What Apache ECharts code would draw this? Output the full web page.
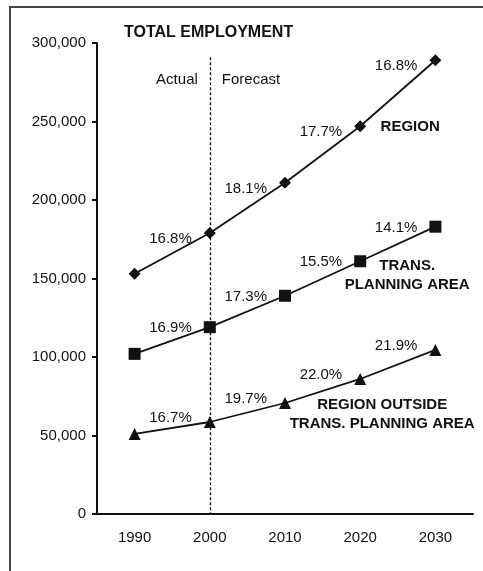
<!DOCTYPE html>
<html>
<head>
<meta charset="utf-8">
<script src="https://cdn.jsdelivr.net/npm/echarts@6/dist/echarts.min.js"></script>
<style>
  html, body { margin: 0; padding: 0; background: #fff; }
  #chart { width: 483px; height: 571px; }
</style>
</head>
<body>
<div id="chart"></div>
<script>
const years = ['1990', '2000', '2010', '2020', '2030'];
const regionVals = [153000, 179000, 211000, 247000, 289000];
const transVals = [102000, 119000, 139000, 161000, 183000];
const outsideVals = [51000, 58600, 70700, 86000, 104500];
// growth per decade, shown beside each point (none for 1990)
const regionPct = ['', '16.8%', '18.1%', '17.7%', '16.8%'];
const transPct = ['', '16.9%', '17.3%', '15.5%', '14.1%'];
const outsidePct = ['', '16.7%', '19.7%', '22.0%', '21.9%'];
const yTicks = [0, 50000, 100000, 150000, 200000, 250000, 300000];

const FONT = "'Liberation Sans', Arial, sans-serif";

function withPct(vals, pct) {
  return vals.map((v, i) => ({ value: v, label: { formatter: pct[i] } }));
}

function pctLabel(dy) {
  return {
    show: true,
    position: 'left',
    distance: 12,
    offset: [0, dy],
    fontFamily: FONT,
    fontSize: 15,
    color: '#111',
  };
}

function nameMark(coord, text, offset) {
  return {
    coord: coord,
    symbolSize: 0,
    label: {
      show: true,
      position: 'inside',
      offset: offset,
      formatter: text,
      align: 'center',
      fontFamily: FONT,
      fontSize: 15,
      fontWeight: 'bold',
      lineHeight: 19,
      color: '#111',
    },
  };
}

const chart = echarts.init(document.getElementById('chart'));
chart.setOption({
  animation: false,
  backgroundColor: '#fff',
  title: {
    text: 'TOTAL EMPLOYMENT',
    left: 119,
    top: 20,
    textStyle: { fontFamily: FONT, fontSize: 16, fontWeight: 'bold', color: '#111' },
  },
  graphic: [{
    type: 'polyline',
    shape: { points: [[10, 571], [10, 7], [483, 7]] },
    style: { stroke: '#444', lineWidth: 2, fill: null },
  }],
  grid: { left: 97, right: 10, top: 43, bottom: 57 },
  xAxis: {
    type: 'category',
    data: years,
    axisLine: { lineStyle: { color: '#111', width: 2 } },
    axisTick: { length: 5, lineStyle: { color: '#111', width: 2 } },
    axisLabel: { margin: 16, fontFamily: FONT, fontSize: 15, color: '#111' },
  },
  yAxis: {
    type: 'value',
    min: 0,
    max: 300000,
    interval: 50000,
    splitLine: { show: false },
    axisLine: { show: true, lineStyle: { color: '#111', width: 2 } },
    axisTick: { show: true, length: 5, lineStyle: { color: '#111', width: 2 } },
    axisLabel: {
      margin: 11,
      fontFamily: FONT,
      fontSize: 15,
      color: '#111',
      formatter: (v) => yTicks.includes(v) ? v.toLocaleString('en-US') : '',
    },
  },
  series: [
    {
      name: 'REGION',
      type: 'line',
      data: withPct(regionVals, regionPct),
      symbol: 'diamond',
      symbolSize: 12,
      itemStyle: { color: '#111' },
      lineStyle: { color: '#111', width: 1.8 },
      label: pctLabel(6),
      markLine: {
        silent: true,
        symbol: 'none',
        label: { show: false },
        lineStyle: { color: '#111', type: [3, 2], width: 1.3 },
        data: [[{ coord: ['2000', 291000] }, { coord: ['2000', 0] }]],
      },
      markPoint: {
        data: [
          nameMark(['2020', 247000], 'REGION', [50, 1]),
          {
            coord: ['2000', 276500],
            symbolSize: 0,
            label: { show: true, position: 'left', distance: 12, formatter: 'Actual',
              fontFamily: FONT, fontSize: 15, color: '#111' },
          },
          {
            coord: ['2000', 276500],
            symbolSize: 0,
            label: { show: true, position: 'right', distance: 12, formatter: 'Forecast',
              fontFamily: FONT, fontSize: 15, color: '#111' },
          },
        ],
      },
    },
    {
      name: 'TRANS. PLANNING AREA',
      type: 'line',
      data: withPct(transVals, transPct),
      symbol: 'rect',
      symbolSize: 12,
      itemStyle: { color: '#111' },
      lineStyle: { color: '#111', width: 1.8 },
      label: pctLabel(1),
      markPoint: {
        data: [nameMark(['2020', 161000], 'TRANS.\nPLANNING AREA', [47, 14])],
      },
    },
    {
      name: 'REGION OUTSIDE TRANS. PLANNING AREA',
      type: 'line',
      data: withPct(outsideVals, outsidePct),
      symbol: 'triangle',
      symbolSize: 12,
      itemStyle: { color: '#111' },
      lineStyle: { color: '#111', width: 1.8 },
      label: pctLabel(-4),
      markPoint: {
        data: [nameMark(['2020', 86000], 'REGION OUTSIDE\nTRANS. PLANNING AREA', [22, 35])],
      },
    },
  ],
});
</script>
</body>
</html>
